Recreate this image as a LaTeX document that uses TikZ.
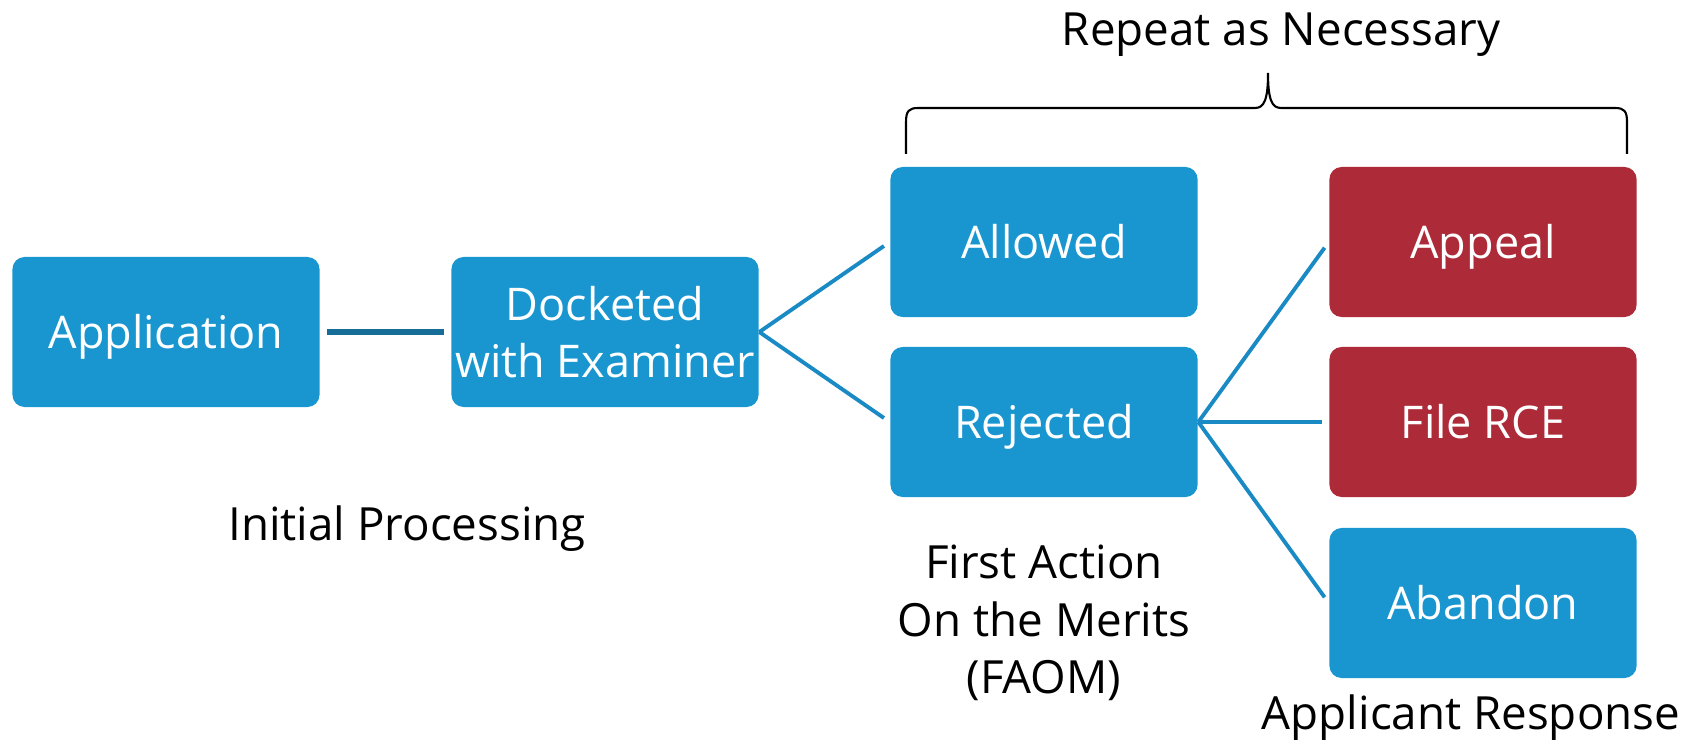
\documentclass[tikz,border=0pt]{standalone}
\usepackage{fontspec}
\setmainfont{Open Sans}
\usepackage{tikz}

\definecolor{boxblue}{RGB}{25,150,208}
\definecolor{boxred}{RGB}{173,42,56}
\definecolor{lineblue}{RGB}{26,138,196}
\definecolor{linedark}{RGB}{22,110,152}

\begin{document}
\begin{tikzpicture}[x=0.01cm,y=-0.01cm,shorten >=2pt,-]
                \tikzstyle{stage}=[rectangle,rounded corners=3.5pt,fill=boxblue,text=white,minimum width=3.07cm,minimum height=1.5cm,inner sep=0pt,align=center,font=\fontsize{12.8}{16.3}\selectfont]
                \tikzstyle{oneline}=[stage,text height=9.1pt,text depth=0pt]
                \tikzstyle{redstage}=[oneline,fill=boxred]
                \tikzstyle{caption}=[align=center,font=\fontsize{13}{16.3}\selectfont]
                \tikzstyle{link}=[draw=lineblue,line width=1.1pt]
                \useasboundingbox (0,0) rectangle (1692,743);

                \foreach \name/\x/\y/\txt in {app/166/332/Application, allow/1044/242/Allowed, reject/1044/422/Rejected, abandon/1483/603/Abandon}
                        \node[oneline] (\name) at (\x,\y) {\txt};
                \node[stage] (dock) at (605,332) {Docketed\\with Examiner};
                \foreach \name/\y/\txt in {appeal/242/Appeal, rce/422/File RCE}
                        \node[redstage] (\name) at (1483,\y) {\txt};

                \node[caption] (initial) at (407,529) {Initial Processing};
                \node[caption] (faom) at (1044,623) {First Action\\On the Merits\\(FAOM)};
                \node[caption] (response) at (1471,718) {Applicant Response};
                \node[caption] (repeat) at (1281,35) {Repeat as Necessary};

                    \draw[link,draw=linedark,line width=1.6pt,shorten <=2pt] (app) -- (dock);
                    \foreach \from/\to in {dock/allow, dock/reject, reject/appeal, reject/rce, reject/abandon}
                        \draw[link] (\from.east) -- (\to.west);

                    % brace over the repeated part
                    \draw[line width=0.6pt,shorten >=0pt] (906,154) -- (906,122) .. controls (906,111) and (909,108) .. (918,108) -- (1255,108) .. controls (1264,108) and (1268,100) .. (1268,73)
                        .. controls (1268,100) and (1272,108) .. (1281,108) -- (1615,108) .. controls (1624,108) and (1627,111) .. (1627,122) -- (1627,154);
            \end{tikzpicture}
\end{document}
